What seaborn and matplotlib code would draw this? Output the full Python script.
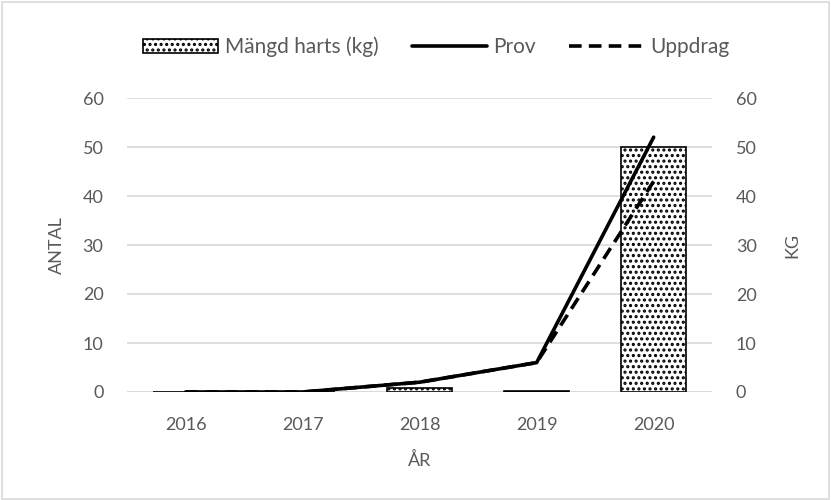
import numpy as np
import pandas as pd
import matplotlib
matplotlib.use('Agg')
import matplotlib.pyplot as plt
import seaborn as sns
from matplotlib.patches import Patch, Rectangle
from matplotlib.lines import Line2D

# data
years = ['2016', '2017', '2018', '2019', '2020']
harts_kg = [0, 0, 0.8, 0.15, 50]
prov = [0, 0, 2, 6, 52]
uppdrag = [0, 0, 2, 6, 43]

sns.set_theme(style='white')
plt.rcParams['font.family'] = ['Lato', 'DejaVu Sans']
plt.rcParams['hatch.color'] = 'black'
plt.rcParams['hatch.linewidth'] = 1.5

grey = '#595959'

fig = plt.figure(figsize=(8.31, 5), dpi=100)
ax = fig.add_axes([0.153, 0.216, 0.704, 0.588])
ax2 = ax.twinx()

df = pd.DataFrame({'year': years, 'harts': harts_kg, 'Prov': prov, 'Uppdrag': uppdrag})

# bars (kg)
sns.barplot(data=df, x='year', y='harts', ax=ax, color='white', edgecolor='black',
            linewidth=1.2, width=0.56, saturation=1)
for p in ax.patches:
    p.set_hatch('...')
    p.set_facecolor('white')

# lines
sns.lineplot(data=df, x='year', y='Prov', ax=ax2, color='black', linewidth=2.6)
sns.lineplot(data=df, x='year', y='Uppdrag', ax=ax2, color='black', linewidth=2.6,
             linestyle=(0, (3.5, 2)))

for a in (ax, ax2):
    a.set_ylim(0, 60)
    a.set_yticks(range(0, 61, 10))
    a.tick_params(axis='y', length=0, labelsize=13, labelcolor=grey, pad=17)
    for s in a.spines.values():
        s.set_visible(False)
ax.set_xlim(-0.5, 4.5)
ax.grid(axis='y', color='#d9d9d9', linewidth=1.2)
ax.set_axisbelow(True)
ax.tick_params(axis='x', length=0, labelsize=13, labelcolor=grey, pad=18)
ax.axhline(0, color='#d9d9d9', linewidth=1.2, zorder=0.5)

ax.set_xlabel('ÅR', fontsize=13, color=grey, labelpad=14)
ax.set_ylabel('ANTAL', fontsize=13, color=grey, labelpad=13)
ax2.set_ylabel('KG', fontsize=13, color=grey, labelpad=20)

handles = [Patch(facecolor='white', edgecolor='black', hatch='...', linewidth=1.2),
           Line2D([], [], color='black', linewidth=2.6),
           Line2D([], [], color='black', linewidth=2.6, linestyle=(0, (3.5, 2)))]
labels = ['Mängd harts (kg)', 'Prov', 'Uppdrag']
leg = fig.legend(handles, labels, loc='center', bbox_to_anchor=(0.525, 0.906), ncol=3,
                 frameon=False, fontsize=15, handlelength=3.6, columnspacing=1.6,
                 handletextpad=0.3)
for t in leg.get_texts():
    t.set_color(grey)

fig.patches.append(Rectangle((0.003, 0.003), 0.994, 0.994, transform=fig.transFigure,
                             fill=False, edgecolor='#d9d9d9', linewidth=1.2))

fig.savefig('out.png', dpi=100)
